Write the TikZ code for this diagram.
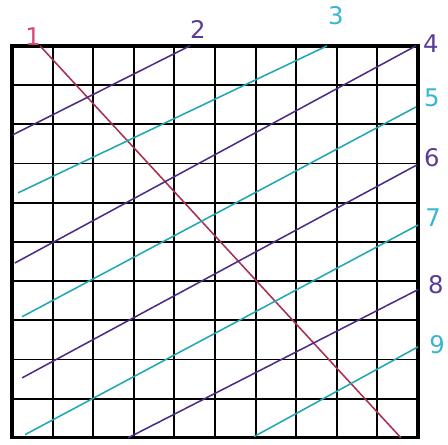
\documentclass[tikz,border=0pt]{standalone}
\usepackage{fontspec}
\setsansfont{DejaVu Sans}

\definecolor{lred}{HTML}{A8304E}
\definecolor{lpurple}{HTML}{4E2C86}
\definecolor{lteal}{HTML}{1FA8B4}
\definecolor{tred}{HTML}{D8457A}
\definecolor{tpurple}{HTML}{5A3C96}
\definecolor{tteal}{HTML}{38B4D4}

\begin{document}
\begin{tikzpicture}[
  x=1.015cm, y=0.98cm,
  font=\sffamily\LARGE,
  cell/.style={black, line width=1.3pt, xstep=1.015cm, ystep=0.98cm},
  frame/.style={black, line width=2.4pt},
  redline/.style={lred, line width=1.1pt},
  purpline/.style={lpurple, line width=1.1pt},
  tealline/.style={lteal, line width=1.1pt},
  num/.style={inner sep=0pt},
]
\useasboundingbox (-0.296,-0.18) rectangle (10.74,11.17);

% squared paper
\draw[cell] (0,0) grid (10,10);
\draw[frame] (0,0) rectangle (10,10);

% the nine lines
\draw[redline]  (0.69,10) -- (9.58,0);
\draw[purpline] (0.02,7.73) -- (4.38,10);
\draw[tealline] (0.15,6.25) -- (7.76,10);
\draw[purpline] (0.07,4.46) -- (9.95,10);
\draw[tealline] (0.25,3.09) -- (9.95,8.44);
\draw[purpline] (0.25,1.53) -- (9.97,6.96);
\draw[tealline] (0.32,0.08) -- (10,5.43);
\draw[purpline] (2.86,0) -- (10,3.78);
\draw[tealline] (5.96,0.03) -- (10,2.32);

% numbers
\node[num, text=tred]    (n1) at (0.52,10.23) {1};
\node[num, text=tpurple] (n2) at (4.58,10.41) {2};
\node[num, text=tteal]   (n3) at (7.98,10.77) {3};
\node[num, text=tpurple] (n4) at (10.32,10.05) {4};
\node[num, text=tteal]   (n5) at (10.34,8.67) {5};
\node[num, text=tpurple] (n6) at (10.34,7.14) {6};
\node[num, text=tteal]   (n7) at (10.37,5.61) {7};
\node[num, text=tpurple] (n8) at (10.44,3.90) {8};
\node[num, text=tteal]   (n9) at (10.47,2.37) {9};
\end{tikzpicture}
\end{document}
